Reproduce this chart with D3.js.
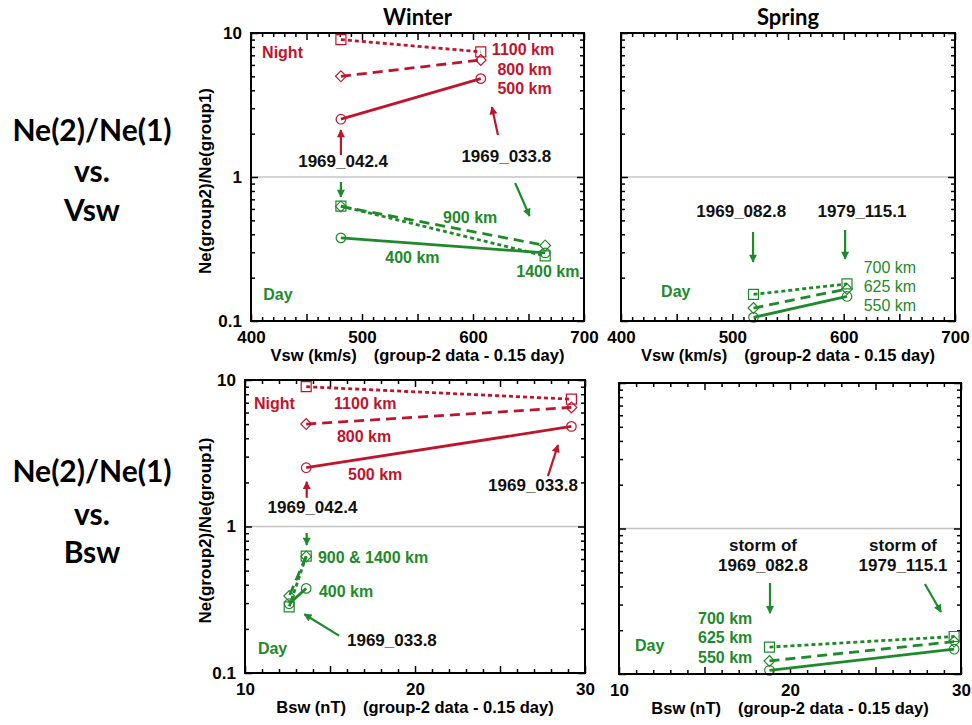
<!DOCTYPE html>
<html>
<head>
<meta charset="utf-8">
<script src="https://cdn.jsdelivr.net/npm/d3@7"></script>
<style>
  body { margin: 0; background: #fff; }
  svg { display: block; }
</style>
</head>
<body>
<svg id="chart" width="972" height="725"></svg>
<script>
/////////////////////////////// DATA ///////////////////////////////
// storms (group-2 data - 0.15 day)
var winterStorms = ["1969_042.4", "1969_033.8"];
var springStorms = ["1969_082.8", "1979_115.1"];

// x values of the two storms (night and day differ for 1969_033.8)
var winterVswNight = [481, 607];
var winterVswDay   = [481, 665];
var winterBswNight = [13.6, 29.2];
var winterBswDay   = [13.6, 12.6];
var springVsw      = [519, 603];
var springBsw      = [18.8, 29.6];

// Ne(group2)/Ne(group1) per altitude
var night1100 = [9.0, 7.4];
var night800  = [5.0, 6.5];
var night500  = [2.52, 4.82];
var day900    = [0.625, 0.335];
var day1400   = [0.628, 0.283];
var day400    = [0.378, 0.297];
var spring700 = [0.153, 0.181];
var spring625 = [0.123, 0.167];
var spring550 = [0.106, 0.148];

// tick labels
var vswTicks   = [400, 500, 600, 700];
var bswTicks   = [10, 20, 30];
var ratioTicks = [0.1, 1, 10];

/////////////////////////////// STYLE ///////////////////////////////
var RED = "#c0142d", GREEN = "#1f8a2b", INK = "#111";
var BOLD = "'Liberation Sans', Arial, sans-serif";
var TITLE = "Lato, 'Open Sans', sans-serif";

var lineKinds = {
  dot:   { dash: "4,3",  sym: "square" },
  dash:  { dash: "10,6", sym: "diamond" },
  solid: { dash: null,   sym: "circle" }
};

var svg = d3.select("#chart");

// arrow heads
var defs = svg.append("defs");
[["r", RED], ["g", GREEN]].forEach(function(m) {
  defs.append("marker")
      .attr("id", "head-" + m[0])
      .attr("viewBox", "0 0 10 10")
      .attr("refX", 9).attr("refY", 5)
      .attr("markerWidth", 10).attr("markerHeight", 8)
      .attr("markerUnits", "userSpaceOnUse")
      .attr("orient", "auto")
    .append("path")
      .attr("d", "M0,0 L10,5 L0,10 z")
      .attr("fill", m[1]);
});

/////////////////////////////// PANELS ///////////////////////////////
var panels = [
  { box: [251, 584, 33, 321], xDomain: [400, 700], xLabels: vswTicks, xMajor: 50, xMinor: 10,
    xTitle: "Vsw (km/s)", yLabels: true, title: "Winter",
    series: [
      { x: winterVswNight, y: night1100, kind: "dot",   c: RED },
      { x: winterVswNight, y: night800,  kind: "dash",  c: RED },
      { x: winterVswNight, y: night500,  kind: "solid", c: RED },
      { x: winterVswDay,   y: day1400,   kind: "dot",   c: GREEN },
      { x: winterVswDay,   y: day900,    kind: "dash",  c: GREEN },
      { x: winterVswDay,   y: day400,    kind: "solid", c: GREEN }
    ],
    texts: [
      { t: "Night",   x: 410, y: 6.7,  c: RED },
      { t: "1100 km", x: 617, y: 7.0,  c: RED },
      { t: "800 km",  x: 622, y: 5.1,  c: RED },
      { t: "500 km",  x: 622, y: 3.77, c: RED },
      { t: winterStorms[0], x: 483, y: 1.17, c: INK, mid: true },
      { t: winterStorms[1], x: 630, y: 1.27, c: INK, mid: true },
      { t: "900 km",  x: 573, y: 0.48,  c: GREEN },
      { t: "400 km",  x: 521, y: 0.253, c: GREEN },
      { t: "1400 km", x: 639, y: 0.202, c: GREEN },
      { t: "Day",     x: 411, y: 0.14,  c: GREEN }
    ],
    arrows: [
      { x1: 481, y1: 1.42, x2: 481, y2: 2.12, c: "r" },
      { x1: 622.5, y1: 1.96, x2: 617, y2: 3.06, c: "r" },
      { x1: 481, y1: 0.923, x2: 481, y2: 0.726, c: "g" },
      { x1: 638, y1: 0.908, x2: 651, y2: 0.536, c: "g" }
    ] },

  { box: [621, 955, 33, 321], xDomain: [400, 700], xLabels: vswTicks, xMajor: 50, xMinor: 10,
    xTitle: "Vsw (km/s)", yLabels: false, title: "Spring",
    series: [
      { x: springVsw, y: spring700, kind: "dot",   c: GREEN },
      { x: springVsw, y: spring625, kind: "dash",  c: GREEN },
      { x: springVsw, y: spring550, kind: "solid", c: GREEN }
    ],
    texts: [
      { t: springStorms[0], x: 508, y: 0.527, c: INK, mid: true },
      { t: springStorms[1], x: 616.5, y: 0.527, c: INK, mid: true },
      { t: "700 km", x: 618, y: 0.216, c: GREEN, light: true },
      { t: "625 km", x: 618, y: 0.159, c: GREEN, light: true },
      { t: "550 km", x: 618, y: 0.117, c: GREEN, light: true },
      { t: "Day",    x: 436, y: 0.147, c: GREEN }
    ],
    arrows: [
      { x1: 518.6, y1: 0.415, x2: 518.6, y2: 0.257, c: "g" },
      { x1: 601.3, y1: 0.429, x2: 601.3, y2: 0.27,  c: "g" }
    ] },

  { box: [245, 585, 380, 673], xDomain: [10, 30], xLabels: bswTicks, xMajor: 5, xMinor: 1,
    xTitle: "Bsw (nT)", yLabels: true,
    series: [
      { x: winterBswNight, y: night1100, kind: "dot",   c: RED },
      { x: winterBswNight, y: night800,  kind: "dash",  c: RED },
      { x: winterBswNight, y: night500,  kind: "solid", c: RED },
      { x: winterBswDay,   y: day1400,   kind: "dot",   c: GREEN },
      { x: winterBswDay,   y: day900,    kind: "dash",  c: GREEN },
      { x: winterBswDay,   y: day400,    kind: "solid", c: GREEN }
    ],
    texts: [
      { t: "Night",   x: 10.53, y: 6.34, c: RED },
      { t: "1100 km", x: 15.24, y: 6.34, c: RED },
      { t: "800 km",  x: 15.41, y: 3.77, c: RED },
      { t: "500 km",  x: 16.06, y: 2.08, c: RED },
      { t: winterStorms[1], x: 26.94, y: 1.75, c: INK, mid: true },
      { t: winterStorms[0], x: 13.97, y: 1.24, c: INK, mid: true },
      { t: "900 & 1400 km", x: 14.29, y: 0.564, c: GREEN },
      { t: "400 km",  x: 14.35, y: 0.33,  c: GREEN },
      { t: winterStorms[1], x: 16.0, y: 0.153, c: INK },
      { t: "Day",     x: 10.76, y: 0.135, c: GREEN }
    ],
    arrows: [
      { x1: 27.82, y1: 2.21, x2: 28.41, y2: 3.6, c: "r" },
      { x1: 13.63, y1: 1.57, x2: 13.63, y2: 2.02, c: "r" },
      { x1: 13.63, y1: 0.903, x2: 13.63, y2: 0.748, c: "g" },
      { x1: 15.53, y1: 0.18, x2: 13.49, y2: 0.252, c: "g" }
    ] },

  { box: [619, 961, 383, 674], xDomain: [10, 30], xLabels: bswTicks, xMajor: 5, xMinor: 1,
    xTitle: "Bsw (nT)", yLabels: false,
    series: [
      { x: springBsw, y: spring700, kind: "dot",   c: GREEN },
      { x: springBsw, y: spring625, kind: "dash",  c: GREEN },
      { x: springBsw, y: spring550, kind: "solid", c: GREEN }
    ],
    texts: [
      { t: "storm of", x: 18.42, y: 0.70, c: INK, mid: true },
      { t: springStorms[0], x: 18.42, y: 0.51, c: INK, mid: true },
      { t: "storm of", x: 26.61, y: 0.70, c: INK, mid: true },
      { t: springStorms[1], x: 26.61, y: 0.51, c: INK, mid: true },
      { t: "700 km", x: 14.62, y: 0.221, c: GREEN },
      { t: "625 km", x: 14.62, y: 0.163, c: GREEN },
      { t: "550 km", x: 14.62, y: 0.119, c: GREEN },
      { t: "Day",    x: 10.94, y: 0.144, c: GREEN }
    ],
    arrows: [
      { x1: 18.83, y1: 0.422, x2: 18.83, y2: 0.262, c: "g" },
      { x1: 27.89, y1: 0.415, x2: 28.83, y2: 0.267, c: "g" }
    ] }
];

// minor ticks of the log axis : 2..9 of each decade
var logMinor = [];
[0.1, 1].forEach(function(d) {
  for (var k = 2; k <= 9; k++) logMinor.push(+(k * d).toFixed(2));
});

function styleAxis(sel) {
  sel.select(".domain").remove();
  sel.selectAll(".tick line").attr("stroke", "#000").attr("stroke-width", 1.5);
  sel.selectAll(".tick text")
     .attr("fill", "#000")
     .style("font-family", BOLD).style("font-weight", "bold").style("font-size", "17px");
}

panels.forEach(function(p) {
  var x0 = p.box[0], x1 = p.box[1], y0 = p.box[2], y1 = p.box[3];
  var x = d3.scaleLinear().domain(p.xDomain).range([x0, x1]);
  var y = d3.scaleLog().domain([0.1, 10]).range([y1, y0]);
  var g = svg.append("g");

  // ligne grise à 1
  g.append("line")
   .attr("x1", x0).attr("x2", x1).attr("y1", y(1)).attr("y2", y(1))
   .attr("stroke", "#c4c4c4").attr("stroke-width", 1.3);

  var xMaj = d3.range(p.xDomain[0], p.xDomain[1] + 0.001, p.xMajor);
  var xMin = d3.range(p.xDomain[0], p.xDomain[1] + 0.001, p.xMinor)
               .filter(function(v) { return xMaj.indexOf(v) < 0; });

  // x axes (ticks pointing inward)
  g.append("g").attr("transform", "translate(0," + y1 + ")")
   .call(d3.axisBottom(x).tickValues(xMaj).tickSizeInner(-7).tickSizeOuter(0).tickPadding(10)
           .tickFormat(function(v) { return p.xLabels.indexOf(v) >= 0 ? v : ""; }))
   .call(styleAxis);
  g.append("g").attr("transform", "translate(0," + y1 + ")")
   .call(d3.axisBottom(x).tickValues(xMin).tickSizeInner(-4).tickSizeOuter(0).tickFormat(""))
   .call(styleAxis);
  g.append("g").attr("transform", "translate(0," + y0 + ")")
   .call(d3.axisTop(x).tickValues(xMaj).tickSizeInner(-7).tickSizeOuter(0).tickFormat(""))
   .call(styleAxis);
  g.append("g").attr("transform", "translate(0," + y0 + ")")
   .call(d3.axisTop(x).tickValues(xMin).tickSizeInner(-4).tickSizeOuter(0).tickFormat(""))
   .call(styleAxis);

  // y axes
  g.append("g").attr("transform", "translate(" + x0 + ",0)")
   .call(d3.axisLeft(y).tickValues(ratioTicks).tickSizeInner(-7).tickSizeOuter(0).tickPadding(p.yLabels ? 9 : 0)
           .tickFormat(function(v) { return p.yLabels ? (v < 1 ? "0.1" : String(v)) : ""; }))
   .call(styleAxis);
  g.append("g").attr("transform", "translate(" + x0 + ",0)")
   .call(d3.axisLeft(y).tickValues(logMinor).tickSizeInner(-4).tickSizeOuter(0).tickFormat(""))
   .call(styleAxis);
  g.append("g").attr("transform", "translate(" + x1 + ",0)")
   .call(d3.axisRight(y).tickValues(ratioTicks).tickSizeInner(-7).tickSizeOuter(0).tickFormat(""))
   .call(styleAxis);
  g.append("g").attr("transform", "translate(" + x1 + ",0)")
   .call(d3.axisRight(y).tickValues(logMinor).tickSizeInner(-4).tickSizeOuter(0).tickFormat(""))
   .call(styleAxis);

  // series
  var line = d3.line().x(function(d) { return x(d[0]); }).y(function(d) { return y(d[1]); });
  p.series.forEach(function(s) {
    var pts = d3.zip(s.x, s.y);
    var k = lineKinds[s.kind];
    g.append("path").attr("d", line(pts))
     .attr("fill", "none").attr("stroke", s.c).attr("stroke-width", 2.8)
     .attr("stroke-dasharray", k.dash);
    var sym = k.sym === "circle" ? d3.symbol(d3.symbolCircle, 72)
            : k.sym === "square" ? d3.symbol(d3.symbolSquare, 100)
            : d3.symbol(d3.symbolSquare, 58);
    g.selectAll(null).data(pts).enter().append("path")
     .attr("d", sym)
     .attr("transform", function(d) {
       return "translate(" + x(d[0]) + "," + y(d[1]) + ")" + (k.sym === "diamond" ? " rotate(45)" : "");
     })
     .attr("fill", "none").attr("stroke", s.c).attr("stroke-width", 1.2);
  });

  // arrows
  p.arrows.forEach(function(a) {
    g.append("line")
     .attr("x1", x(a.x1)).attr("y1", y(a.y1)).attr("x2", x(a.x2)).attr("y2", y(a.y2))
     .attr("stroke", a.c === "r" ? RED : GREEN).attr("stroke-width", 2.2)
     .attr("marker-end", "url(#head-" + a.c + ")");
  });

  // annotations
  p.texts.forEach(function(t) {
    g.append("text")
     .attr("x", x(t.x)).attr("y", y(t.y))
     .attr("text-anchor", t.mid ? "middle" : "start")
     .attr("fill", t.c)
     .style("font-family", BOLD)
     .style("font-weight", t.light ? "normal" : "bold")
     .style("font-size", t.c === INK ? "17px" : "16px")
     .text(t.t);
  });

  // cadre
  g.append("rect")
   .attr("x", x0).attr("y", y0).attr("width", x1 - x0).attr("height", y1 - y0)
   .attr("fill", "none").attr("stroke", "#000").attr("stroke-width", 2);

  // titre de l'axe x
  var xt = g.append("text")
   .attr("x", (x0 + x1) / 2).attr("y", y1 + 40)
   .attr("text-anchor", "middle")
   .style("font-family", BOLD).style("font-weight", "bold").style("font-size", "16.5px");
  xt.append("tspan").text(p.xTitle);
  xt.append("tspan").attr("dx", 17).text("(group-2 data - 0.15 day)");

  // titre de l'axe y
  if (p.yLabels) {
    g.append("text")
     .attr("transform", "translate(211," + ((y0 + y1) / 2 + 4) + ") rotate(-90)")
     .attr("text-anchor", "middle")
     .style("font-family", BOLD).style("font-weight", "bold").style("font-size", "17px")
     .text("Ne(group2)/Ne(group1)");
  }

  // saison
  if (p.title) {
    svg.append("text")
     .attr("x", (x0 + x1) / 2).attr("y", 25)
     .attr("text-anchor", "middle")
     .style("font-family", TITLE).style("font-weight", "bold").style("font-size", "22px")
     .text(p.title);
  }
});

/////////////////////////////// ROW LABELS ///////////////////////////////
var rowLabels = [
  { lines: ["Ne(2)/Ne(1)", "vs.", "Vsw"], base: [141, 182, 221] },
  { lines: ["Ne(2)/Ne(1)", "vs.", "Bsw"], base: [482, 525, 563] }
];
rowLabels.forEach(function(r) {
  r.lines.forEach(function(l, i) {
    svg.append("text")
       .attr("x", 92).attr("y", r.base[i])
       .attr("text-anchor", "middle")
       .style("font-family", TITLE).style("font-weight", "bold").style("font-size", "30px")
       .text(l);
  });
});
</script>
</body>
</html>
